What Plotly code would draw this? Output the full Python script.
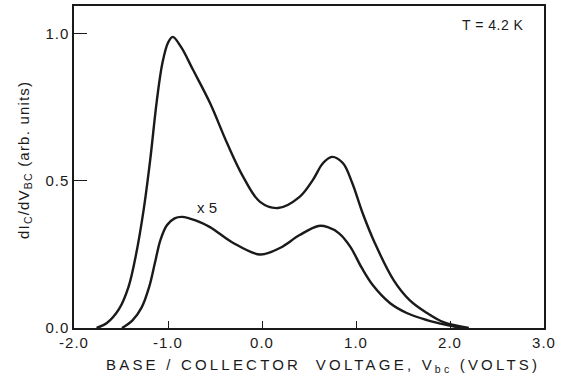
import plotly.graph_objects as go

# Main curve (dIc/dVbc)
v_main = [-1.76, -1.65, -1.52, -1.42, -1.34, -1.26, -1.19, -1.12, -1.06, -1.00, -0.95,
          -0.86, -0.734, -0.553, -0.372, -0.2, -0.021, 0.17, 0.40, 0.54, 0.65, 0.745,
          0.86, 0.96, 1.07, 1.2, 1.40, 1.57, 1.755, 1.93, 2.2]
y_main = [0.0, 0.017, 0.065, 0.14, 0.25, 0.40, 0.57, 0.77, 0.90, 0.97, 0.99,
          0.955, 0.878, 0.765, 0.629, 0.514, 0.429, 0.408, 0.446, 0.503, 0.561, 0.582,
          0.561, 0.493, 0.391, 0.289, 0.163, 0.095, 0.051, 0.02, 0.0]

# x5 curve
v_x5 = [-1.49, -1.38, -1.28, -1.20, -1.14, -1.08, -1.01, -0.93, -0.85, -0.70, -0.553, -0.31,
        -0.02, 0.19, 0.40, 0.6, 0.70, 0.82, 0.94, 1.06, 1.18, 1.36, 1.54, 1.755, 1.97, 2.12]
y_x5 = [0.0, 0.025, 0.07, 0.14, 0.22, 0.30, 0.35, 0.373, 0.378, 0.365, 0.343, 0.29,
        0.25, 0.272, 0.316, 0.347, 0.343, 0.322, 0.276, 0.205, 0.145, 0.085, 0.051, 0.027,
        0.01, 0.0]

x_ticks = [-2.0, -1.0, 0.0, 1.0, 2.0, 3.0]
x_tick_labels = ["-2.0", "-1.0", "0.0", "1.0", "2.0", "3.0"]
y_ticks = [0.0, 0.5, 1.0]
y_tick_labels = ["0.0", "0.5", "1.0"]

FONT = "Liberation Sans, Arial, sans-serif"
INK = "#1a1a1a"


def spaced(s, px):
    return f'<span style="letter-spacing:{px}px">{s}</span>'


fig = go.Figure()
for xs, ys in [(v_main, y_main), (v_x5, y_x5)]:
    fig.add_trace(go.Scatter(x=xs, y=ys, mode="lines",
                             line=dict(color=INK, width=2.4, shape="spline", smoothing=1.0),
                             showlegend=False, hoverinfo="skip"))

fig.add_annotation(x=-0.585, y=0.41, text="x 5", showarrow=False,
                   xanchor="center", yanchor="middle",
                   font=dict(family=FONT, size=15, color=INK))
fig.add_annotation(x=2.46, y=1.03, text=spaced("T = 4.2 K", 0.5), showarrow=False,
                   xanchor="center", yanchor="middle",
                   font=dict(family=FONT, size=14, color=INK))

# axis titles placed as paper annotations
fig.add_annotation(xref="paper", yref="paper", x=0.53, y=-0.118,
                   xanchor="center", yanchor="middle",
                   text=spaced("BASE / COLLECTOR  VOLTAGE, V<sub>bc</sub> (VOLTS)", 3.2),
                   showarrow=False, font=dict(family=FONT, size=15, color=INK))
fig.add_annotation(xref="paper", yref="paper", x=-0.104, y=0.522, textangle=-90,
                   xanchor="center", yanchor="middle",
                   text=spaced("dI<sub>C</sub>/dV<sub>BC</sub> (arb. units)", 1.2),
                   showarrow=False, font=dict(family=FONT, size=15, color=INK))

fig.update_layout(
    width=564, height=381,
    margin=dict(l=74, r=20, t=6, b=53, autoexpand=False),
    paper_bgcolor="white", plot_bgcolor="white",
    font=dict(family=FONT, size=14, color=INK),
    xaxis=dict(range=[-2.0, 3.0], tickvals=x_ticks,
               ticktext=[spaced(t, 1) for t in x_tick_labels],
               ticks="inside", ticklen=7, tickwidth=1.3, tickcolor=INK,
               showline=True, linecolor=INK, linewidth=1.5, mirror=True,
               showgrid=False, zeroline=False, automargin=False,
               tickfont=dict(size=15)),
    yaxis=dict(range=[0.0, 1.095], tickvals=y_ticks,
               ticktext=[spaced(t, 1) for t in y_tick_labels],
               ticks="inside", ticklen=13, tickwidth=1.3, tickcolor=INK,
               showline=True, linecolor=INK, linewidth=1.5, mirror=True,
               showgrid=False, zeroline=False, automargin=False,
               tickfont=dict(size=15)),
)

fig.write_html("out.html", config={"displayModeBar": False},
               post_script="document.body.style.margin='0px';document.body.style.overflow='hidden';")
